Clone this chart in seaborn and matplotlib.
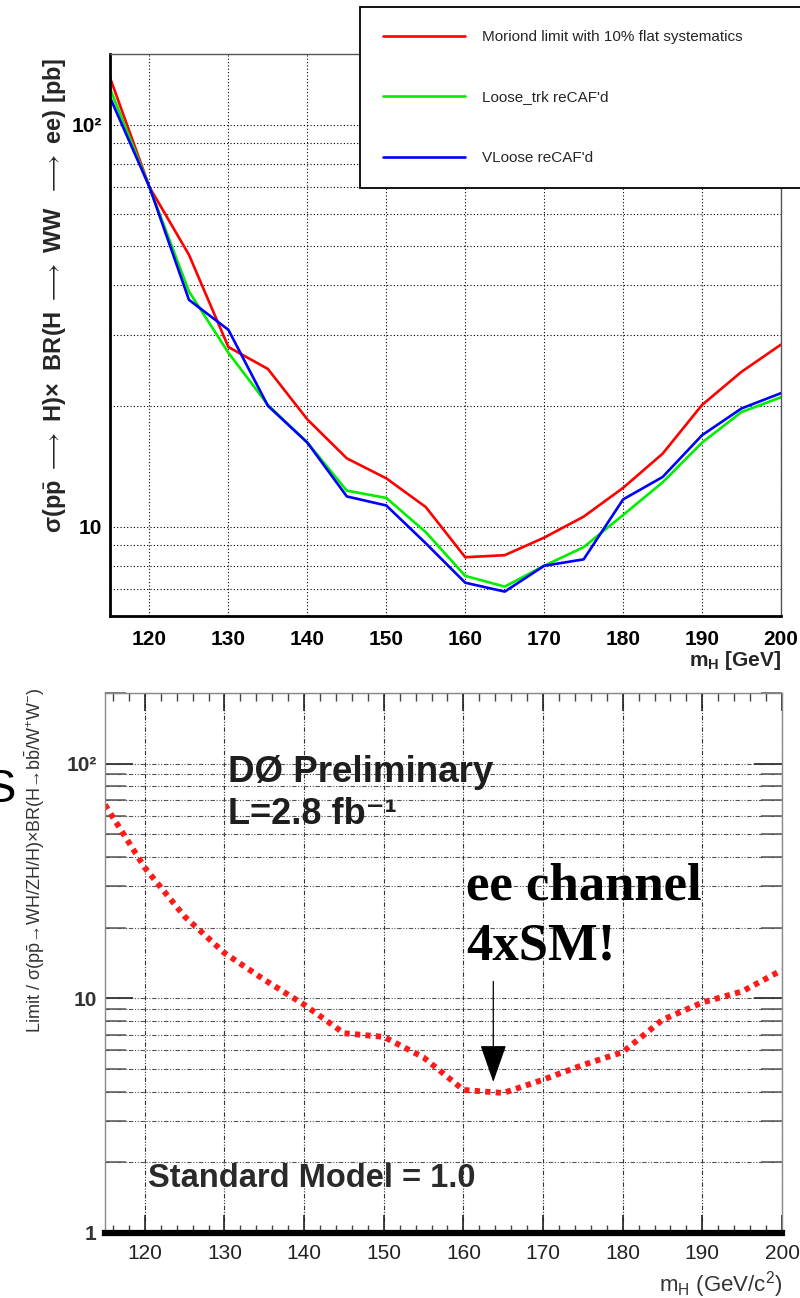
import numpy as np
import pandas as pd
import matplotlib
matplotlib.use("Agg")
import matplotlib.pyplot as plt
import matplotlib.ticker as mticker
import seaborn as sns

# ---------------- data ----------------
mass = [115, 120, 125, 130, 135, 140, 145, 150, 155, 160, 165, 170, 175, 180, 185, 190, 195, 200]
moriond = [131, 70, 47.5, 28, 24.7, 18.5, 14.8, 13.2, 11.2, 8.4, 8.5, 9.4, 10.6, 12.5, 15.2, 20.1, 24.3, 28.4]
loose_trk = [123, 70, 38.5, 27.1, 20.1, 16.2, 12.3, 11.8, 9.7, 7.55, 7.1, 8.0, 8.9, 10.7, 12.9, 16.2, 19.3, 21.0]
vloose = [117, 70, 36.7, 30.9, 20.0, 16.2, 11.9, 11.3, 9.1, 7.26, 6.9, 8.0, 8.3, 11.7, 13.3, 16.9, 19.7, 21.5]
series_names = ["Moriond limit with 10% flat systematics", "Loose_trk reCAF'd", "VLoose reCAF'd"]
series_colors = ["#ff0000", "#00ee00", "#0000ff"]

ee_limit = [66.8, 36, 22.3, 15.6, 12.0, 9.4, 7.1, 6.85, 5.6, 4.07, 3.95, 4.5, 5.2, 5.9, 8.1, 9.6, 10.7, 13.2]
arrow_mass = 163.75
arrow_from, arrow_to = 11.8, 4.4
x_ticks = [120, 130, 140, 150, 160, 170, 180, 190, 200]

# ---------------- style ----------------
sns.set_theme(style="white")
plt.rcParams['font.family'] = ['Liberation Sans', 'DejaVu Sans']
plt.rcParams['mathtext.fontset'] = 'custom'
plt.rcParams['mathtext.rm'] = 'Liberation Sans'
plt.rcParams['mathtext.bf'] = 'Liberation Sans:bold'
plt.rcParams['mathtext.it'] = 'Liberation Sans:italic'

W, H = 800, 1298
fig = plt.figure(figsize=(W / 100, H / 100), dpi=100)
fig.patch.set_facecolor("white")

def fx(x):
    return x / W

def fy(y):
    return 1 - y / H

# ---------------- top panel ----------------
ax1 = fig.add_axes([fx(110), fy(616), fx(781) - fx(110), fy(54) - fy(616)])
df_top = pd.DataFrame({
    "mass": mass * 3,
    "limit": moriond + loose_trk + vloose,
    "series": [series_names[0]] * len(mass) + [series_names[1]] * len(mass) + [series_names[2]] * len(mass),
})
sns.lineplot(data=df_top, x="mass", y="limit", hue="series", palette=dict(zip(series_names, series_colors)),
             linewidth=1.9, ax=ax1, legend=True)
ax1.set_yscale("log")
ax1.set_xlim(115, 200)
ax1.set_ylim(6, 150)
ax1.set_xticks(x_ticks)
ax1.set_xticklabels([str(t) for t in x_ticks], fontsize=15, fontweight="bold")
ax1.xaxis.set_minor_locator(mticker.MultipleLocator(2))
ax1.set_yticks([10, 100])
ax1.set_yticklabels(["10", "10²"], fontsize=15, fontweight="bold")
ax1.yaxis.set_minor_locator(mticker.LogLocator(base=10, subs=np.arange(2, 10)))
ax1.yaxis.set_minor_formatter(mticker.NullFormatter())
ax1.tick_params(axis="x", which="major", direction="in", length=13, width=1.2, pad=10, colors="black")
ax1.tick_params(axis="x", which="minor", direction="in", length=6, width=1.0, colors="black")
ax1.tick_params(axis="y", which="major", direction="in", length=18, width=1.2, pad=6, colors="black")
ax1.tick_params(axis="y", which="minor", direction="in", length=8, width=1.0, colors="black")
ax1.grid(True, which="major", axis="x", color="black", linestyle=(0, (1, 2)), linewidth=0.8)
ax1.grid(True, which="both", axis="y", color="black", linestyle=(0, (1, 2)), linewidth=0.8)
for s in ["left", "bottom"]:
    ax1.spines[s].set_color("black")
    ax1.spines[s].set_linewidth(2.0)
for s in ["top", "right"]:
    ax1.spines[s].set_color("#555555")
    ax1.spines[s].set_linewidth(1.0)
ax1.set_xlabel(r"m$_\mathbf{H}$ [GeV]", fontsize=15, fontweight="bold")
ax1.xaxis.set_label_coords(1.0, -0.058)
ax1.xaxis.label.set_horizontalalignment("right")
ax1.set_ylabel(r"σ(p$\bar{\mathbf{p}}$ $\longrightarrow$ H)×  BR(H $\longrightarrow$ WW  $\longrightarrow$ ee) [pb]",
               fontsize=17, fontweight="bold")
ax1.yaxis.set_label_coords(-0.063, 0.57)

leg = ax1.legend(loc="upper left", bbox_to_anchor=(fx(360), fy(7), fx(480), 0.0), bbox_transform=fig.transFigure,
                 mode="expand", frameon=True, fancybox=False, fontsize=11, handlelength=5.4, handletextpad=1.1,
                 labelspacing=3.05, borderpad=1.5, borderaxespad=0)
leg.get_frame().set_edgecolor("black")
leg.get_frame().set_linewidth(1.3)
leg.get_frame().set_facecolor("white")
leg.get_frame().set_alpha(1)
for l in leg.get_lines():
    l.set_linewidth(1.9)

# ---------------- bottom panel ----------------
ax2 = fig.add_axes([fx(105), fy(1233), fx(782) - fx(105), fy(693) - fy(1233)])
df_bot = pd.DataFrame({"mass": mass, "limit": ee_limit})
sns.lineplot(data=df_bot, x="mass", y="limit", color="#ff1a1a", linewidth=4.2,
             linestyle=(0, (0.9, 0.9)), ax=ax2)
ax2.set_yscale("log")
ax2.set_xlim(115, 200)
ax2.set_ylim(1, 200)
ax2.set_xticks(x_ticks)
ax2.set_xticklabels([str(t) for t in x_ticks], fontsize=15, color="#2a2a2a")
ax2.xaxis.set_minor_locator(mticker.MultipleLocator(2))
ax2.set_yticks([1, 10, 100])
ax2.set_yticklabels(["1", "10", "10²"], fontsize=15, fontweight="bold", color="#222222")
ax2.yaxis.set_minor_locator(mticker.LogLocator(base=10, subs=np.arange(2, 10)))
ax2.yaxis.set_minor_formatter(mticker.NullFormatter())
ax2.tick_params(axis="x", which="major", direction="in", length=13, width=1.2, pad=8,
                top=True, bottom=True, colors="#222222")
ax2.tick_params(axis="x", which="minor", direction="in", length=6, width=1.0, top=True, bottom=True,
                colors="#444444")
ax2.tick_params(axis="y", which="major", direction="in", length=20, width=1.3, pad=6,
                left=True, right=True, colors="#333333")
ax2.tick_params(axis="y", which="minor", direction="in", length=15, width=1.1, left=True, right=True,
                colors="#555555")
ax2.grid(True, which="major", axis="x", color="#333333", linestyle=(0, (4, 1.5, 1, 1.5, 1, 1.5)), linewidth=0.8)
ax2.grid(True, which="both", axis="y", color="#555555", linestyle=(0, (4, 1.5, 1, 1.5, 1, 1.5)), linewidth=0.8)
for s in ["left", "top", "right"]:
    ax2.spines[s].set_color("#888888")
    ax2.spines[s].set_linewidth(1.0)
ax2.spines["bottom"].set_color("black")
ax2.spines["bottom"].set_linewidth(4.5)
ax2.set_xlabel(r"m$_\mathregular{H}$ (GeV/c$^\mathregular{2}$)", fontsize=16, color="#333333")
ax2.xaxis.set_label_coords(1.0, -0.066)
ax2.xaxis.label.set_horizontalalignment("right")
ax2.set_ylabel(r"Limit / σ(p$\bar{\mathregular{p}}$→WH/ZH/H)×BR(H→b$\bar{\mathregular{b}}$/W$^{\mathregular{+}}$W$^{\mathregular{-}}$)",
               fontsize=13, color="#333333")
ax2.yaxis.set_label_coords(-0.086, 0.69)

ax2.annotate("", xy=(arrow_mass, arrow_to), xytext=(arrow_mass, arrow_from),
             arrowprops=dict(arrowstyle="-|>,head_length=1.2,head_width=0.42", color="black",
                             lw=0.9, mutation_scale=20, shrinkA=0, shrinkB=0))

fig.text(fx(228), fy(773), "DØ Preliminary", fontsize=26.5, fontweight="bold", color="#1e1e1e",
         ha="left", va="center")
fig.text(fx(228), fy(814), "L=2.8 fb⁻¹", fontsize=26, fontweight="bold", color="#1e1e1e",
         ha="left", va="center")
fig.text(fx(466), fy(899), "ee channel", fontsize=38, fontweight="bold", family="Liberation Serif",
         color="black", ha="left", va="baseline")
fig.text(fx(466), fy(960), "4xSM!", fontsize=38, fontweight="bold", family="Liberation Serif",
         color="black", ha="left", va="baseline")
fig.text(fx(148), fy(1187), "Standard Model = 1.0", fontsize=23.5, fontweight="bold", color="#2a2a2a",
         ha="left", va="baseline")
fig.text(fx(16), fy(790), "S", fontsize=34, color="black", ha="right", va="center")

fig.savefig("out.png", dpi=100)
